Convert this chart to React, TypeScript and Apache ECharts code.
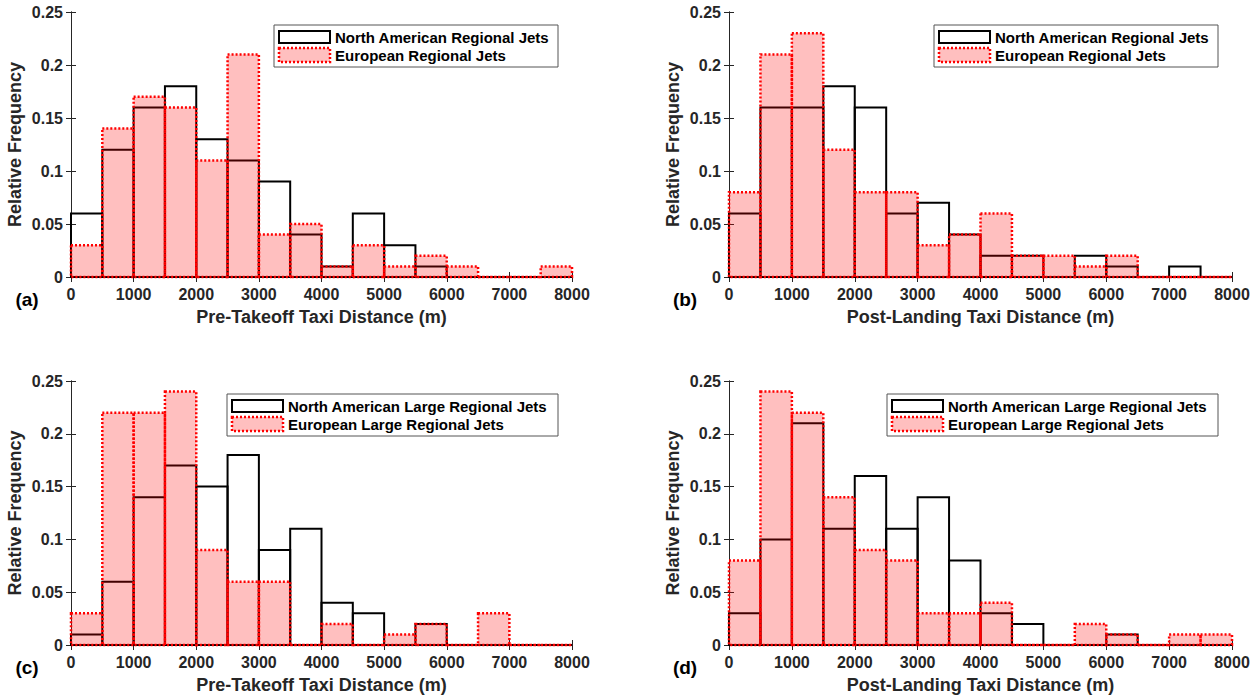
import React, { useEffect, useRef } from "react";
import * as echarts from "echarts";

const binEdges = [0, 500, 1000, 1500, 2000, 2500, 3000, 3500, 4000, 4500, 5000, 5500, 6000, 6500, 7000, 7500, 8000];

// (a) Pre-takeoff, regional jets
const naPreTakeoff = [0.06, 0.12, 0.16, 0.18, 0.13, 0.11, 0.09, 0.04, 0.01, 0.06, 0.03, 0.01, 0, 0, 0, 0];
const euPreTakeoff = [0.03, 0.14, 0.17, 0.16, 0.11, 0.21, 0.04, 0.05, 0.01, 0.03, 0.01, 0.02, 0.01, 0, 0, 0.01];
// (b) Post-landing, regional jets
const naPostLanding = [0.06, 0.16, 0.16, 0.18, 0.16, 0.06, 0.07, 0.04, 0.02, 0.02, 0, 0.02, 0.01, 0, 0.01, 0];
const euPostLanding = [0.08, 0.21, 0.23, 0.12, 0.08, 0.08, 0.03, 0.04, 0.06, 0.02, 0.02, 0.01, 0.02, 0, 0, 0];
// (c) Pre-takeoff, large regional jets
const naLargePreTakeoff = [0.01, 0.06, 0.14, 0.17, 0.15, 0.18, 0.09, 0.11, 0.04, 0.03, 0, 0.02, 0, 0, 0, 0];
const euLargePreTakeoff = [0.03, 0.22, 0.22, 0.24, 0.09, 0.06, 0.06, 0, 0.02, 0, 0.01, 0.02, 0, 0.03, 0, 0];
// (d) Post-landing, large regional jets
const naLargePostLanding = [0.03, 0.1, 0.21, 0.11, 0.16, 0.11, 0.14, 0.08, 0.03, 0.02, 0, 0, 0.01, 0, 0, 0];
const euLargePostLanding = [0.08, 0.24, 0.22, 0.14, 0.09, 0.08, 0.03, 0.03, 0.04, 0, 0, 0.02, 0.01, 0, 0.01, 0.01];

const xAxisNames = ["Pre-Takeoff Taxi Distance (m)", "Post-Landing Taxi Distance (m)", "Pre-Takeoff Taxi Distance (m)", "Post-Landing Taxi Distance (m)"];
const yAxisName = "Relative Frequency";
const panelLetters = ["(a)", "(b)", "(c)", "(d)"];
const naLegendNames = ["North American Regional Jets", "North American Regional Jets", "North American Large Regional Jets", "North American Large Regional Jets"];
const euLegendNames = ["European Regional Jets", "European Regional Jets", "European Large Regional Jets", "European Large Regional Jets"];

const panels = [
  { na: naPreTakeoff, eu: euPreTakeoff, left: 71, top: 12, width: 501, height: 265, legendW: 284 },
  { na: naPostLanding, eu: euPostLanding, left: 729, top: 12, width: 503, height: 265, legendW: 284 },
  { na: naLargePreTakeoff, eu: euLargePreTakeoff, left: 71, top: 381, width: 501, height: 264, legendW: 331 },
  { na: naLargePostLanding, eu: euLargePostLanding, left: 729, top: 381, width: 503, height: 264, legendW: 331 },
];

const FONT = "'Liberation Sans', Arial, Helvetica, sans-serif";
const AX = "#262626";
const PINK = "rgba(255,0,0,0.25)";

export default function App() {
  const ref = useRef<HTMLDivElement>(null);
  useEffect(() => {
    if (!ref.current) return;
    const chart = echarts.init(ref.current, null, { renderer: "svg" });

    const grid: any[] = [];
    const xAxis: any[] = [];
    const yAxis: any[] = [];
    const series: any[] = [];
    const graphic: any[] = [];

    panels.forEach((p) => {
      grid.push({ left: p.left, top: p.top, width: p.width, height: p.height, containLabel: false });
    });
    // bottom x axes
    panels.forEach((p, i) => {
      xAxis.push({
        type: "value", gridIndex: i, min: 0, max: 8000, interval: 1000, position: "bottom",
        name: xAxisNames[i], nameLocation: "middle", nameGap: 31,
        nameTextStyle: { fontFamily: FONT, fontWeight: "bold", fontSize: 18, color: AX },
        axisLine: { show: true, lineStyle: { color: AX, width: 1 } },
        axisTick: { show: true, inside: true, length: 5, lineStyle: { color: AX } },
        axisLabel: { fontFamily: FONT, fontWeight: "bold", fontSize: 16, color: AX, margin: 9, formatter: (v: number) => String(v) },
        splitLine: { show: false },
      });
    });
    // top x axes
    panels.forEach((p, i) => {
      xAxis.push({
        type: "value", gridIndex: i, min: 0, max: 8000, interval: 1000, position: "top",
        axisLine: { show: true, lineStyle: { color: AX, width: 1 } },
        axisTick: { show: true, inside: true, length: 5, lineStyle: { color: AX } },
        axisLabel: { show: false }, splitLine: { show: false },
      });
    });
    // left y axes
    panels.forEach((p, i) => {
      yAxis.push({
        type: "value", gridIndex: i, min: 0, max: 0.25, interval: 0.05, position: "left",
        name: yAxisName, nameLocation: "middle", nameGap: 47, nameRotate: 90,
        nameTextStyle: { fontFamily: FONT, fontWeight: "bold", fontSize: 18, color: AX },
        axisLine: { show: true, lineStyle: { color: AX, width: 1 } },
        axisTick: { show: true, inside: true, length: 5, lineStyle: { color: AX } },
        axisLabel: { fontFamily: FONT, fontWeight: "bold", fontSize: 16, color: AX, margin: 8 },
        splitLine: { show: false },
      });
    });
    // right y axes
    panels.forEach((p, i) => {
      yAxis.push({
        type: "value", gridIndex: i, min: 0, max: 0.25, interval: 0.05, position: "right",
        axisLine: { show: true, lineStyle: { color: AX, width: 1 } },
        axisTick: { show: true, inside: true, length: 5, lineStyle: { color: AX } },
        axisLabel: { show: false }, splitLine: { show: false },
      });
    });

    const makeRender = (style: any) => (params: any, api: any) => {
      const x0 = api.value(0);
      const x1 = api.value(1);
      const v = api.value(2);
      const p0 = api.coord([x0, v]);
      const p1 = api.coord([x1, 0]);
      return {
        type: "rect",
        shape: { x: p0[0], y: p0[1], width: p1[0] - p0[0], height: p1[1] - p0[1] },
        style,
      };
    };

    panels.forEach((p, i) => {
      series.push({
        type: "custom", name: naLegendNames[i], xAxisIndex: i, yAxisIndex: i,
        encode: { x: [0, 1], y: 2 },
        data: p.na.map((v, k) => [binEdges[k], binEdges[k + 1], v]),
        renderItem: makeRender({ fill: "none", stroke: "#000", lineWidth: 2 }),
        z: 2,
      });
      series.push({
        type: "custom", name: euLegendNames[i], xAxisIndex: i, yAxisIndex: i,
        encode: { x: [0, 1], y: 2 },
        data: p.eu.map((v, k) => [binEdges[k], binEdges[k + 1], v]),
        renderItem: makeRender({ fill: PINK, stroke: "#ff0000", lineWidth: 2.5, lineDash: [2, 2] }),
        z: 3,
      });

      // legend
      const boxRight = p.left + p.width - 14;
      const boxLeft = boxRight - p.legendW;
      const boxTop = p.top + 13;
      graphic.push({
        type: "rect", z: 10,
        shape: { x: boxLeft, y: boxTop, width: p.legendW, height: 42 },
        style: { fill: "#fff", stroke: "#555", lineWidth: 1 },
      });
      graphic.push({
        type: "rect", z: 11,
        shape: { x: boxLeft + 5, y: boxTop + 6, width: 51, height: 12 },
        style: { fill: "#fff", stroke: "#000", lineWidth: 2 },
      });
      graphic.push({
        type: "rect", z: 11,
        shape: { x: boxLeft + 5, y: boxTop + 23, width: 51, height: 14 },
        style: { fill: PINK, stroke: "#ff0000", lineWidth: 2.5, lineDash: [2, 2] },
      });
      graphic.push({
        type: "text", z: 11, x: boxLeft + 61, y: boxTop + 12,
        style: { text: naLegendNames[i], fontFamily: FONT, fontWeight: "bold", fontSize: 15, fill: "#000", verticalAlign: "middle", align: "left" },
      });
      graphic.push({
        type: "text", z: 11, x: boxLeft + 61, y: boxTop + 30,
        style: { text: euLegendNames[i], fontFamily: FONT, fontWeight: "bold", fontSize: 15, fill: "#000", verticalAlign: "middle", align: "left" },
      });
      // panel letter
      graphic.push({
        type: "text", z: 11, x: p.left - 44, y: p.top + p.height + 22,
        style: { text: panelLetters[i], fontFamily: FONT, fontWeight: "bold", fontSize: 19, fill: "#000", verticalAlign: "middle", align: "center" },
      });
    });

    chart.setOption({
      animation: false,
      backgroundColor: "#fff",
      grid, xAxis, yAxis, series, graphic,
    });
    return () => chart.dispose();
  }, []);

  return <div ref={ref} style={{ position: "fixed", left: 0, top: 0, width: 1260, height: 700, background: "#fff" }} />;
}
